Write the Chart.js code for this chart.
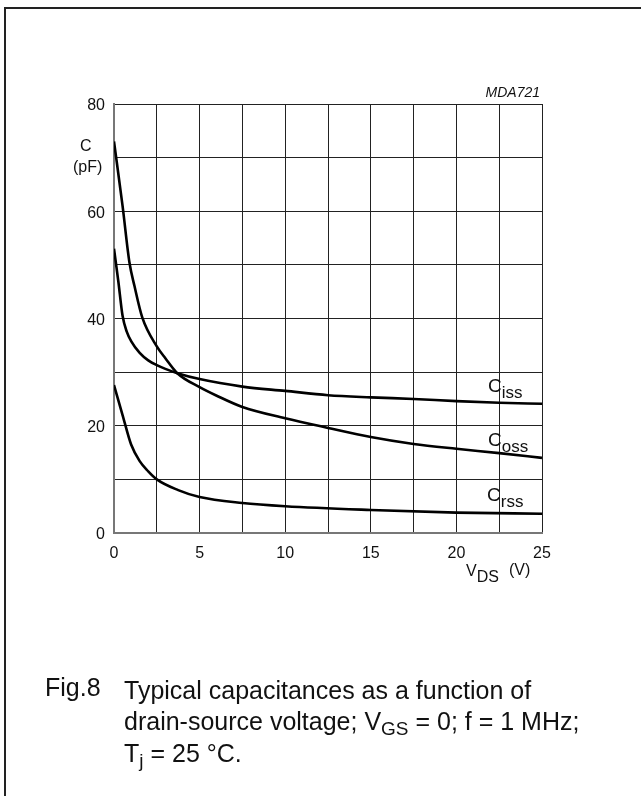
<!DOCTYPE html>
<html>
<head>
<meta charset="utf-8">
<script src="https://cdn.jsdelivr.net/npm/chart.js@4/dist/chart.umd.min.js"></script>
<style>
body{margin:0;background:#fff;}
#wrap{position:relative;width:641px;height:796px;overflow:hidden;font-family:"Liberation Sans",Arial,sans-serif;color:#111;}
#frame{position:absolute;left:4px;top:7px;width:700px;height:900px;border:2px solid #222;}
canvas{position:absolute;left:0;top:0;}
.t{position:absolute;line-height:1;white-space:nowrap;}
.t sub{font-size:17px;vertical-align:-6px;line-height:1;}
</style>
</head>
<body>
<div id="wrap">
<div id="frame"></div>
<canvas id="c" width="641" height="796"></canvas>
<div class="t" style="left:488px;top:376px;font-size:19px;">C<sub>iss</sub></div>
<div class="t" style="left:488px;top:430px;font-size:19px;">C<sub>oss</sub></div>
<div class="t" style="left:487px;top:485px;font-size:19px;">C<sub>rss</sub></div>
<div class="t" style="left:80px;top:138px;font-size:16px;">C</div>
<div class="t" style="left:73px;top:159px;font-size:16px;">(pF)</div>
<div class="t" style="left:466px;top:563px;font-size:16px;">V<sub style="font-size:16px">DS</sub></div>
<div class="t" style="left:509px;top:562px;font-size:16px;">(V)</div>
<div class="t" style="right:101px;top:85px;font-size:14px;font-style:italic;">MDA721</div>
<div class="t" style="left:45px;top:675px;font-size:25px;">Fig.8</div>
<div class="t" style="left:124px;top:675px;font-size:25px;line-height:31px;">Typical capacitances as a function of<br>drain-source voltage; V<sub style="font-size:19px;vertical-align:-5px;line-height:1">GS</sub> = 0; f = 1 MHz;<br>T<sub style="font-size:19px;vertical-align:-5px;line-height:1">j</sub> = 25 °C.</div>
</div>
<script>
// values (V in volts, C in pF)
const cissV=[0,0.25,0.5,0.75,1,1.5,2,2.5,3,3.7,5,7.5,10,12.5,15,17.5,20,22.5,25];
const cissC=[53,47,40.5,37.5,35.8,33.6,32.2,31.3,30.6,29.8,28.7,27.3,26.5,25.7,25.3,25.0,24.6,24.3,24.1];

const cossV=[0,0.5,0.9,1.2,1.65,2.5,3,3.7,5,6,7.5,10,12.5,15,17.5,20,22.5,25];
const cossC=[73,61,50.5,46,40.2,34.8,32.6,29.8,27.2,25.6,23.5,21.4,19.6,17.9,16.6,15.7,14.9,14.0];

const crssV=[0,0.5,1,1.5,2,2.5,3.75,5,7.5,10,15,20,25];
const crssC=[27.6,22,16.5,13.4,11.5,10,8,6.7,5.6,5.0,4.3,3.8,3.6];

const xMin=0,xMax=25,xStep=2.5,xLabelStep=5;
const yMin=0,yMax=80,yStep=10,yLabelStep=20;

function pts(xs,ys){return xs.map((x,i)=>({x:x,y:ys[i]}));}

function curve(xs,ys){
return{
data:pts(xs,ys),
borderColor:"#000",
borderWidth:2.6,
pointRadius:0,
fill:false,
cubicInterpolationMode:"monotone"
};
}

const tickFont={family:"Liberation Sans",size:16};

new Chart(document.getElementById("c"),{
type:"line",
data:{datasets:[curve(cissV,cissC),curve(cossV,cossC),curve(crssV,crssC)]},
options:{
responsive:false,
animation:false,
layout:{padding:{left:0,top:104,right:99,bottom:0}},
plugins:{legend:{display:false},tooltip:{enabled:false}},
scales:{
x:{
type:"linear",min:xMin,max:xMax,
afterFit:s=>{s.height=263;},
grid:{color:"#222",lineWidth:1,drawTicks:false},
border:{display:true,color:"#777",width:2},
ticks:{stepSize:xStep,autoSkip:false,maxRotation:0,padding:11,color:"#111",font:tickFont,
callback:v=>v%xLabelStep===0?v:""}
},
y:{
type:"linear",min:yMin,max:yMax,
afterFit:s=>{s.width=114;},
grid:{color:"#222",lineWidth:1,drawTicks:false},
border:{display:true,color:"#777",width:2},
ticks:{stepSize:yStep,autoSkip:false,padding:9,labelOffset:2,color:"#111",font:tickFont,
callback:v=>v%yLabelStep===0?v:""}
}
}
}
});
</script>
</body>
</html>
